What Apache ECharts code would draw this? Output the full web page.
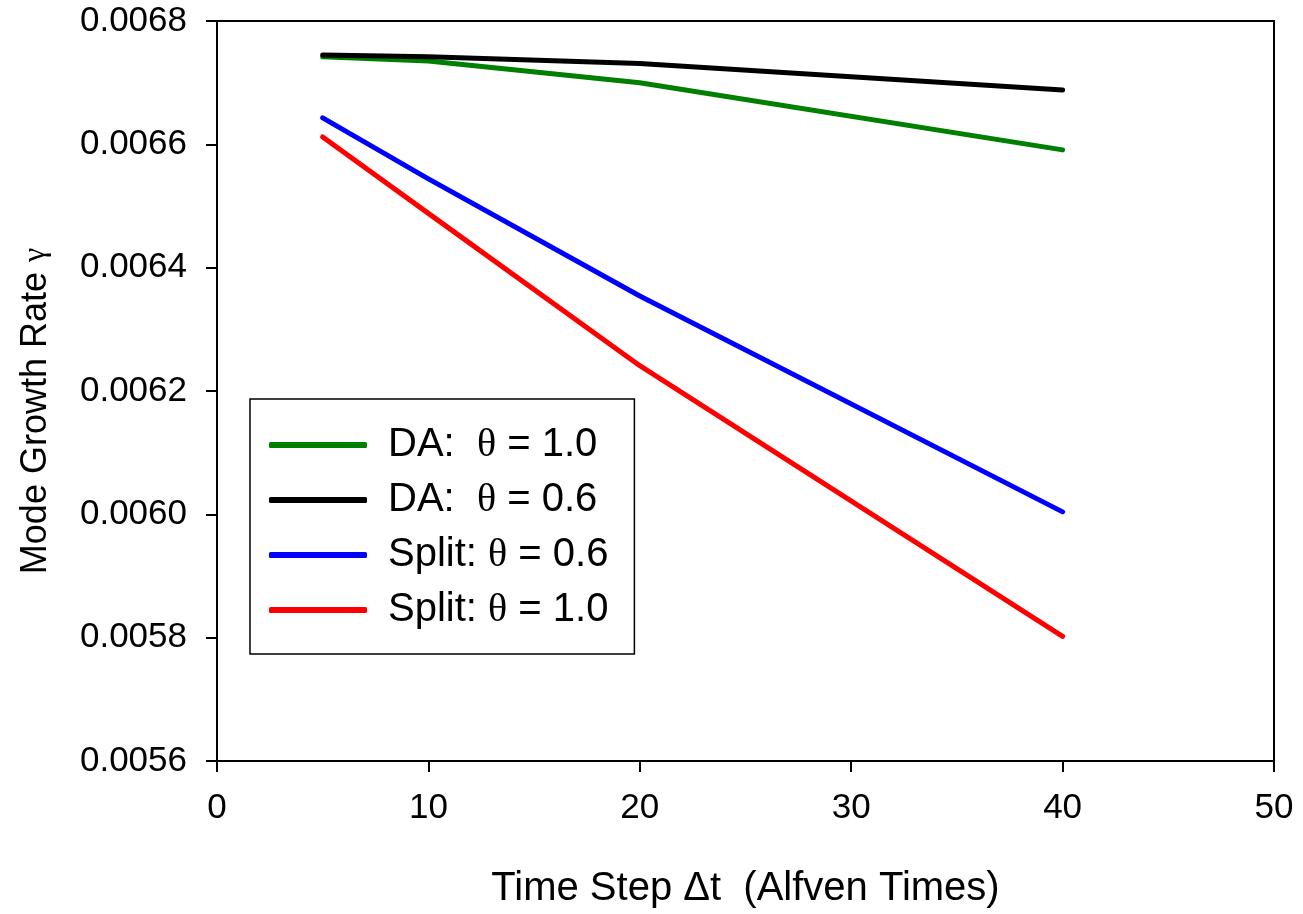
<!DOCTYPE html>
<html>
<head>
<meta charset="utf-8">
<title>Mode Growth Rate vs Time Step</title>
<script src="https://cdn.jsdelivr.net/npm/echarts@6/dist/echarts.min.js"></script>
<style>
  html, body { margin: 0; padding: 0; background: #fff; }
  #chart { width: 1303px; height: 914px; }
</style>
</head>
<body>
<div id="chart"></div>
<script>
// Time step (Alfven times)
const timeSteps = [5, 10, 20, 40];

// Growth rate for each scheme
const daTheta10 = [0.006742, 0.006735, 0.006700, 0.006591];
const daTheta06 = [0.006745, 0.006742, 0.006731, 0.006688];
const splitTheta06 = [0.006643, 0.006544, 0.006354, 0.006004];
const splitTheta10 = [0.006612, 0.006488, 0.006241, 0.005802];

const seriesNames = ['DA:  θ = 1.0', 'DA:  θ = 0.6', 'Split: θ = 0.6', 'Split: θ = 1.0'];
const seriesColors = ['#008000', '#000000', '#0000ff', '#ff0000'];
const seriesValues = [daTheta10, daTheta06, splitTheta06, splitTheta10];

const xTicks = { min: 0, max: 50, interval: 10 };
const yTicks = { min: 0.0056, max: 0.0068, interval: 0.0002 };

const sans = 'Liberation Sans, Arial, Helvetica, sans-serif';
const serif = 'Liberation Serif, Times New Roman, serif';

const chart = echarts.init(document.getElementById('chart'), null, { renderer: 'canvas' });

const axisCommon = {
  axisLine: { show: true, onZero: false, lineStyle: { color: '#000', width: 2 } },
  axisTick: { show: true, inside: false, length: 11, lineStyle: { color: '#000', width: 2 } },
  splitLine: { show: false },
  axisLabel: { color: '#000', fontFamily: sans, fontSize: 35, margin: 30 }
};

chart.setOption({
  animation: false,
  backgroundColor: '#fff',
  grid: {
    left: 217, right: 29, top: 21, bottom: 153,
    show: true, borderColor: '#000', borderWidth: 2, backgroundColor: 'transparent'
  },
  xAxis: Object.assign({}, axisCommon, {
    type: 'value',
    min: xTicks.min, max: xTicks.max, interval: xTicks.interval,
    name: 'Time Step Δt  (Alfven Times)',
    nameLocation: 'middle',
    nameGap: 108,
    nameTextStyle: { color: '#000', fontFamily: sans, fontSize: 40 }
  }),
  yAxis: Object.assign({}, axisCommon, {
    type: 'value',
    min: yTicks.min, max: yTicks.max, interval: yTicks.interval,
    axisLabel: Object.assign({}, axisCommon.axisLabel, {
      margin: 30,
      formatter: v => v.toFixed(4)
    }),
    name: '{t|Mode Growth Rate }{g|γ}',
    nameLocation: 'middle',
    nameGap: 163,
    nameTextStyle: {
      color: '#000',
      padding: [0, 40, 0, 0],
      rich: {
        t: { fontFamily: sans, fontSize: 36, color: '#000' },
        g: { fontFamily: serif, fontSize: 32, color: '#000' }
      }
    }
  }),
  legend: {
    show: true,
    orient: 'vertical',
    left: 250,
    top: 399,
    padding: [26, 26, 24, 19],
    itemGap: 15,
    itemWidth: 98,
    itemHeight: 6,
    icon: 'roundRect',
    backgroundColor: '#fff',
    borderColor: '#000',
    borderWidth: 1.5,
    borderRadius: 0,
    data: seriesNames.map((n, i) => ({ name: n, itemStyle: { color: seriesColors[i] } })),
    formatter: name => {
      const parts = name.split('θ');
      return '{a|' + parts[0] + '}{s|θ}{a|' + parts[1] + '}';
    },
    textStyle: {
      color: '#000',
      padding: [0, 0, 0, 16],
      rich: {
        a: { fontFamily: sans, fontSize: 40, color: '#000', lineHeight: 40 },
        s: { fontFamily: serif, fontSize: 40, color: '#000', lineHeight: 40 }
      }
    }
  },
  series: seriesNames.map((n, i) => ({
    name: n,
    type: 'line',
    data: timeSteps.map((t, j) => [t, seriesValues[i][j]]),
    showSymbol: false,
    symbol: 'none',
    smooth: false,
    color: seriesColors[i],
    lineStyle: { color: seriesColors[i], width: 5, cap: 'round', join: 'round' }
  }))
});
</script>
</body>
</html>
